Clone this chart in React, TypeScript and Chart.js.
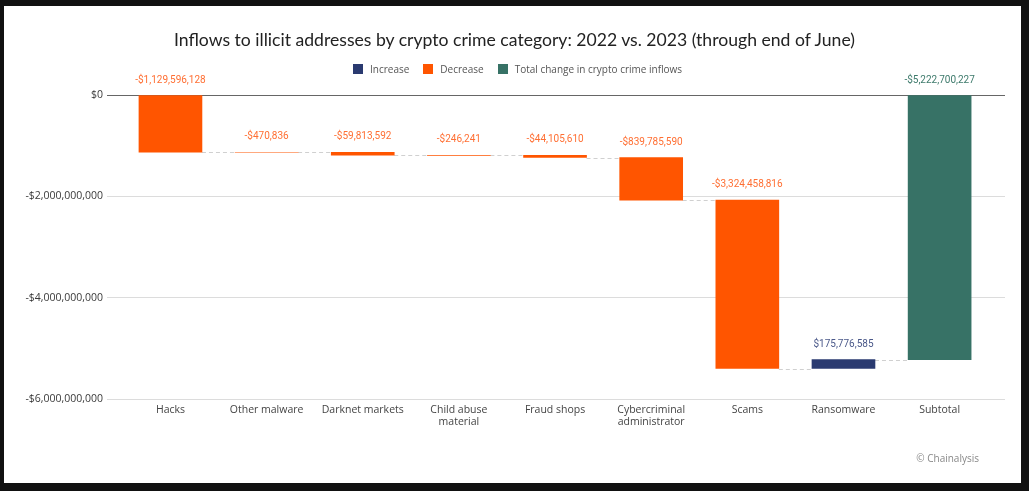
import React, { useEffect, useRef } from 'react';
import { Chart, registerables } from 'chart.js';

Chart.register(...registerables);

const title = 'Inflows to illicit addresses by crypto crime category: 2022 vs. 2023 (through end of June)';
const credit = '© Chainalysis';

const categories: (string | string[])[] = [
  'Hacks',
  'Other malware',
  'Darknet markets',
  ['Child abuse', 'material'],
  'Fraud shops',
  ['Cybercriminal', 'administrator'],
  'Scams',
  'Ransomware',
  'Subtotal',
];

// change per category, 2023 vs 2022 (USD)
const changes = [
  -1129596128,
  -470836,
  -59813592,
  -246241,
  -44105610,
  -839785590,
  -3324458816,
  175776585,
];
const subtotal = -5222700227;

const yTicks = [0, -2000000000, -4000000000, -6000000000];

const legendItems = [
  { key: 'increase', label: 'Increase' },
  { key: 'decrease', label: 'Decrease' },
  { key: 'total', label: 'Total change in crypto crime inflows' },
];

const BAR_COLORS: Record<string, string> = {
  increase: '#2a3a70',
  decrease: '#ff5500',
  total: '#377266',
};
const LABEL_COLORS: Record<string, string> = {
  increase: '#4a5889',
  decrease: '#ff6f33',
  total: '#3d7a6b',
};

const fmtMoney = (v: number) => {
  const s = '$' + Math.abs(Math.round(v)).toLocaleString('en-US');
  return v < 0 ? '-' + s : s;
};

export default function App() {
  const ref = useRef<HTMLCanvasElement | null>(null);

  useEffect(() => {
    if (!ref.current) return;
    let run = 0;
    const ranges: [number, number][] = changes.map((c) => {
      const start = run;
      run += c;
      return [start, run];
    });
    ranges.push([0, subtotal]);
    const values = [...changes, subtotal];
    const kinds = values.map((v, i) =>
      i === values.length - 1 ? 'total' : v < 0 ? 'decrease' : 'increase'
    );

    const connectorPlugin = {
      id: 'connectors',
      beforeDatasetsDraw(chart: any) {
        const meta = chart.getDatasetMeta(0);
        const ys = chart.scales.y;
        const ctx = chart.ctx;
        ctx.save();
        ctx.setLineDash([4, 3]);
        ctx.strokeStyle = '#d0d0d0';
        ctx.lineWidth = 1;
        for (let i = 0; i < meta.data.length - 1; i++) {
          const a = meta.data[i];
          const b = meta.data[i + 1];
          const y = Math.round(ys.getPixelForValue(ranges[i][1])) + 0.5;
          ctx.beginPath();
          ctx.moveTo(a.x + a.width / 2, y);
          ctx.lineTo(b.x - b.width / 2, y);
          ctx.stroke();
        }
        ctx.restore();
      },
    };

    const labelPlugin = {
      id: 'valueLabels',
      afterDatasetsDraw(chart: any) {
        const meta = chart.getDatasetMeta(0);
        const ctx = chart.ctx;
        ctx.save();
        ctx.font = '10px Roboto';
        ctx.textAlign = 'center';
        ctx.textBaseline = 'middle';
        meta.data.forEach((el: any, i: number) => {
          const top = Math.min(el.y, el.base);
          ctx.fillStyle = LABEL_COLORS[kinds[i]];
          ctx.fillText(fmtMoney(values[i]), el.x, top - 15.5);
        });
        ctx.restore();
      },
    };

    const chart = new Chart(ref.current, {
      type: 'bar',
      data: {
        datasets: [
          {
            data: ranges.map((r, i) => ({ x: i, y: r })) as any,
            backgroundColor: kinds.map((k) => BAR_COLORS[k]),
            borderWidth: 0,
            barThickness: 63,
          },
        ],
      },
      options: {
        animation: false,
        responsive: false,
        layout: { padding: { left: 0, right: 16, top: 89, bottom: 44 } },
        plugins: {
          legend: { display: false },
          title: { display: false },
          tooltip: { enabled: false },
        },
        scales: {
          x: {
            type: 'linear',
            offset: false,
            bounds: 'data',
            min: -0.66,
            max: 8.68,
            grid: { display: false, drawTicks: false },
            border: { display: false },
            afterBuildTicks: (axis: any) => {
              axis.ticks = categories.map((_, i) => ({ value: i }));
            },
            afterFit: (axis: any) => {
              axis.height = 40;
            },
            ticks: {
              autoSkip: false,
              maxRotation: 0,
              padding: 5,
              color: '#444',
              font: { family: 'Open Sans', size: 10.5, lineHeight: 1.15 },
              callback: (v: any) => categories[Math.round(Number(v))] as any,
            },
          },
          y: {
            min: -6000000000,
            max: 0,
            border: { display: false },
            grid: {
              drawTicks: false,
              color: (c: any) => (c.tick && c.tick.value === 0 ? '#666666' : '#dcdcdc'),
              lineWidth: 1,
            },
            afterBuildTicks: (axis: any) => {
              axis.ticks = yTicks.map((v) => ({ value: v }));
            },
            afterFit: (axis: any) => {
              axis.width = 103;
            },
            ticks: {
              padding: 4,
              color: '#3a3a3a',
              font: { family: 'Open Sans', size: 10.5 },
              callback: (v: any) => fmtMoney(Number(v)),
            },
          },
        },
      },
      plugins: [connectorPlugin, labelPlugin],
    });
    return () => chart.destroy();
  }, []);

  return (
    <div style={{ position: 'absolute', left: 0, top: 0, width: 1029, height: 491, background: '#111111', overflow: 'hidden' }}>
      <div style={{ position: 'absolute', left: 4, top: 6, width: 1017, height: 477, background: '#ffffff' }}>
        <canvas ref={ref} width={1017} height={477} style={{ position: 'absolute', left: 0, top: 0, width: 1017, height: 477 }} />
      </div>
      <div style={{ position: 'absolute', left: 0, top: 30, width: 1029, textAlign: 'center', fontFamily: 'Lato', fontSize: 17.6, lineHeight: '20px', color: '#222' }}>
        {title}
      </div>
      <div style={{ position: 'absolute', left: 353, top: 62, height: 14, display: 'flex', alignItems: 'center', fontFamily: 'Open Sans', fontSize: 10, color: '#555' }}>
        {legendItems.map((it) => (
          <div key={it.key} style={{ display: 'flex', alignItems: 'center', marginRight: 14 }}>
            <span style={{ display: 'inline-block', width: 10, height: 10, background: BAR_COLORS[it.key], marginRight: 7 }} />
            <span>{it.label}</span>
          </div>
        ))}
      </div>
      <div style={{ position: 'absolute', right: 1029 - 979, top: 451, fontFamily: 'Open Sans', fontSize: 10, lineHeight: '14px', color: '#888' }}>
        {credit}
      </div>
    </div>
  );
}
